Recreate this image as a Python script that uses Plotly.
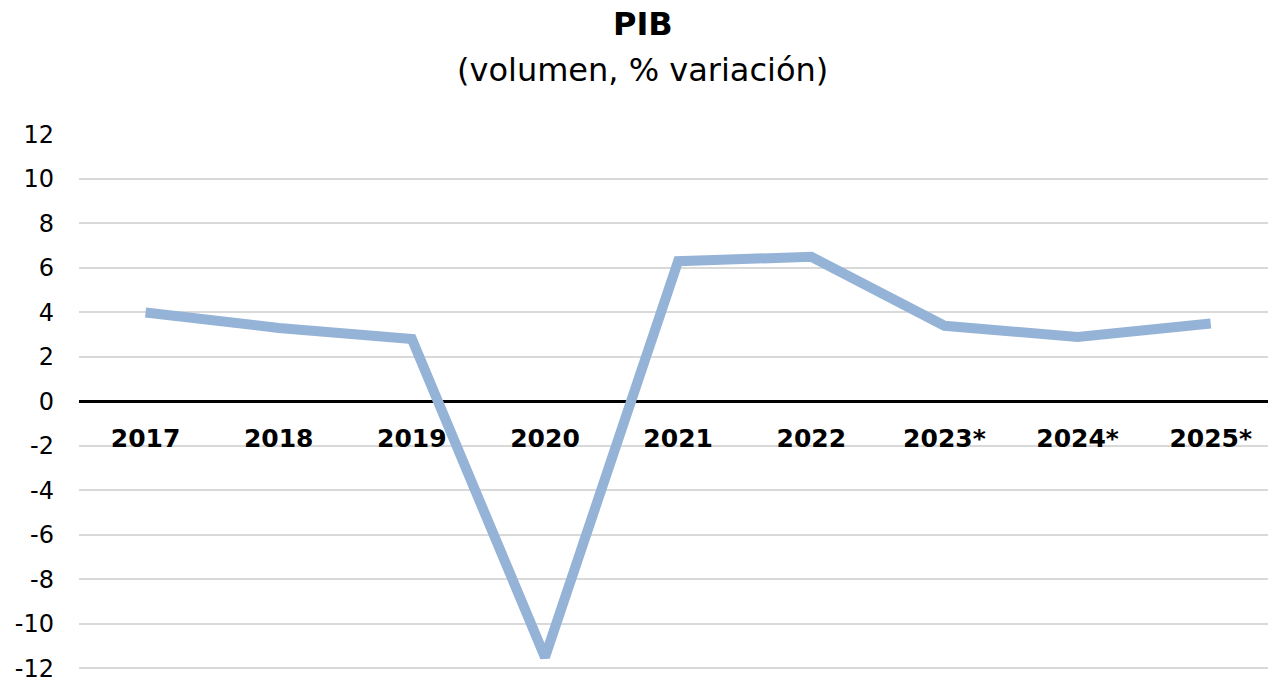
import plotly.graph_objects as go

years = ["2017", "2018", "2019", "2020", "2021", "2022", "2023*", "2024*", "2025*"]
pib = [4.0, 3.3, 2.8, -11.5, 6.3, 6.5, 3.4, 2.9, 3.5]
y_ticks = list(range(-12, 13, 2))
y_labels = [str(v) for v in y_ticks]  # plain hyphen, not unicode minus

fig = go.Figure()
fig.add_trace(go.Scatter(x=years, y=pib, mode="lines",
                         line=dict(color="#95B3D7", width=10),
                         cliponaxis=False, showlegend=False))

fig.update_layout(
    width=1268, height=678,
    margin=dict(l=79, r=0, t=134, b=3),
    plot_bgcolor="white", paper_bgcolor="white",
    font=dict(family="DejaVu Sans", color="black"),
    annotations=[
        dict(text="<b>PIB</b>", x=0.474, y=1.203, xref="paper", yref="paper",
             xanchor="center", yanchor="middle", showarrow=False,
             font=dict(size=32, family="DejaVu Sans")),
        dict(text="(volumen, % variación)", x=0.474, y=1.118, xref="paper", yref="paper",
             xanchor="center", yanchor="middle", showarrow=False,
             font=dict(size=32, family="DejaVu Sans")),
    ],
)

# category labels sit right under the zero line
fig.update_xaxes(type="category", range=[-0.5, 8.43], automargin=False,
                 anchor="free", position=12.02 / 24.32, showline=False, showgrid=False,
                 ticks="", ticklabelstandoff=13,
                 tickfont=dict(size=25, family="DejaVu Sans", weight="bold"))

fig.update_yaxes(range=[-12.3, 12.02], tickvals=y_ticks, ticktext=y_labels,
                 automargin=False,
                 showgrid=True, gridcolor="#D9D9D9", gridwidth=2,
                 zeroline=True, zerolinecolor="black", zerolinewidth=3,
                 ticks="", ticklabelstandoff=24, ticklabeloverflow="allow",
                 tickfont=dict(size=24, family="DejaVu Sans"))

# drop the default body margin so the figure fills the window exactly
fig.write_html("out.html", config={"displayModeBar": False},
               post_script="document.body.style.margin='0';")
